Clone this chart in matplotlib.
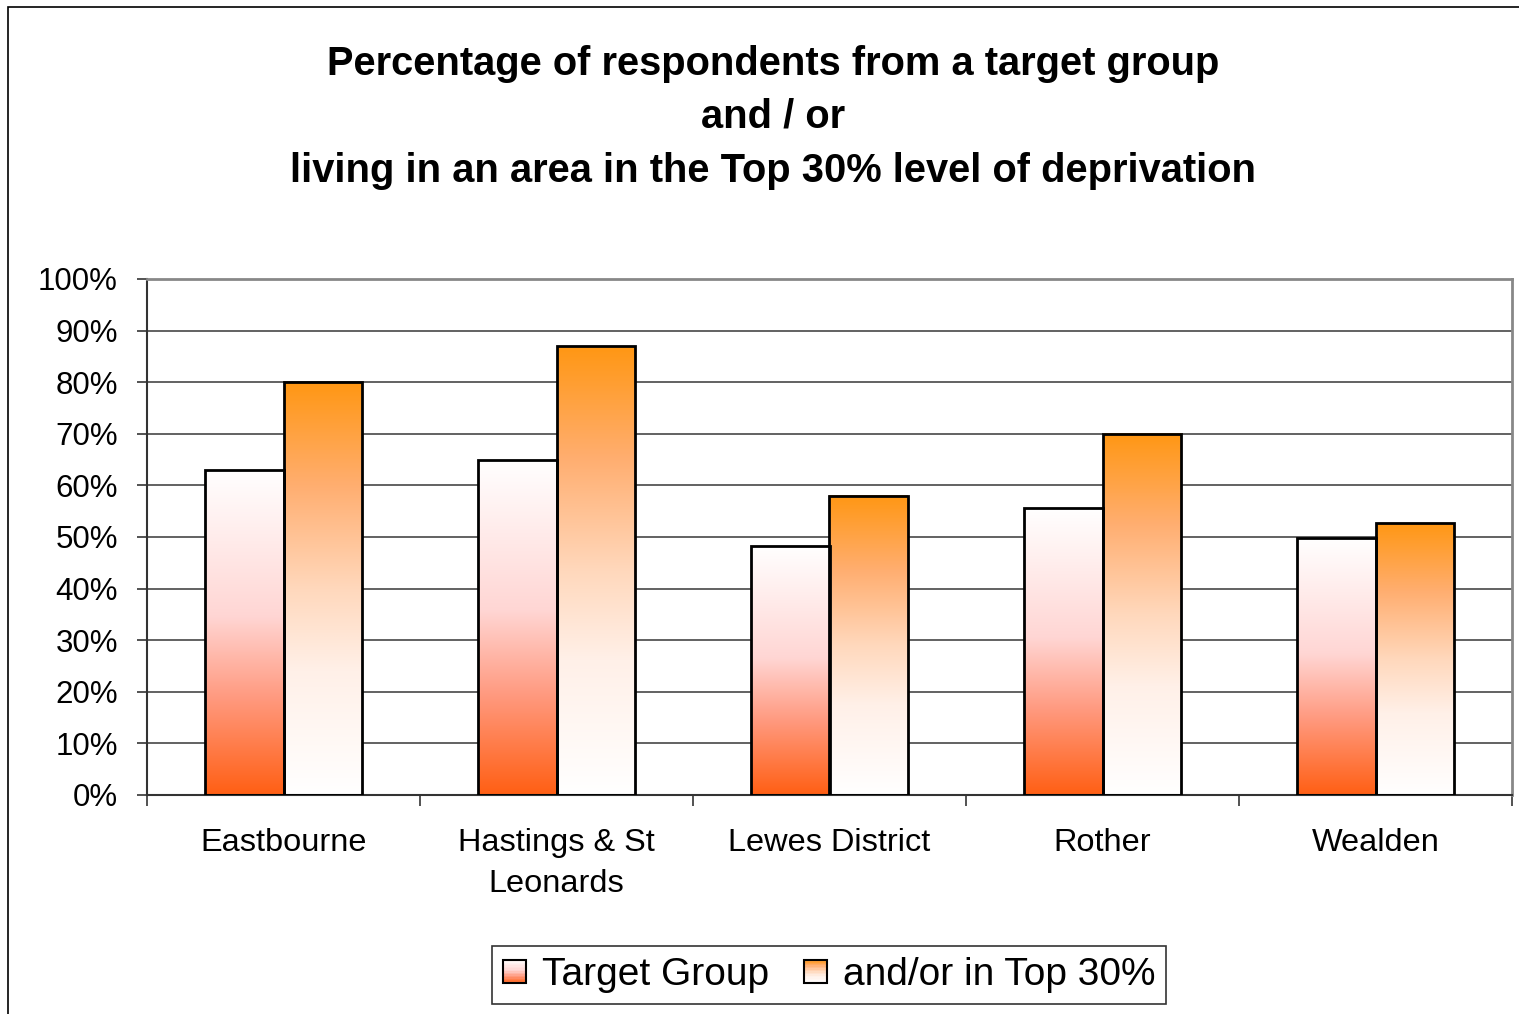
import numpy as np
import matplotlib
matplotlib.use("Agg")
import matplotlib.pyplot as plt
from matplotlib.colors import LinearSegmentedColormap
from matplotlib.legend_handler import HandlerBase
from matplotlib.patches import Rectangle, Patch

plt.rcParams["font.family"] = ["Liberation Sans", "DejaVu Sans"]

categories = ["Eastbourne", "Hastings & St\nLeonards", "Lewes District", "Rother", "Wealden"]
target_group = [63, 65, 48.3, 55.6, 49.8]
top30 = [80, 87, 58, 70, 52.7]
series_names = ["Target Group", "and/or in Top 30%"]
y_ticks = [0, 10, 20, 30, 40, 50, 60, 70, 80, 90, 100]

# colormaps go from bar bottom (0) to bar top (1)
cmap_target = LinearSegmentedColormap.from_list(
    "target", [(0.0, "#ff5f14"), (0.3, "#ff9a80"), (0.55, "#ffd6d4"), (1.0, "#ffffff")])
cmap_top = LinearSegmentedColormap.from_list(
    "top", [(0.0, "#ffffff"), (0.3, "#fff0e8"), (0.5, "#ffd8bc"), (0.75, "#ffae70"), (1.0, "#ff9714")])

fig = plt.figure(figsize=(15.19, 10.14), dpi=100)
ax = fig.add_axes([147 / 1519, 1 - 795 / 1014, (1512 - 147) / 1519, (795 - 279) / 1014])

x = np.arange(len(categories))
w = 0.286
grad = np.linspace(0, 1, 256).reshape(-1, 1)

for vals, off, cmap in [(target_group, -w / 2, cmap_target), (top30, w / 2, cmap_top)]:
    bars = ax.bar(x + off, vals, w, facecolor="none", edgecolor="black", linewidth=2, zorder=3)
    for b in bars:
        x0, y0 = b.get_x(), b.get_y()
        ax.imshow(grad, cmap=cmap, origin="lower", aspect="auto",
                  extent=(x0, x0 + b.get_width(), y0, y0 + b.get_height()), zorder=2,
                  interpolation="bilinear")

ax.set_xlim(-0.5, len(categories) - 0.5)
ax.set_ylim(0, 100)
ax.set_yticks(y_ticks)
ax.set_yticklabels([f"{t}%" for t in y_ticks], fontsize=22.5)
ax.yaxis.grid(True, color="#555555", linewidth=1.3, zorder=0)
ax.set_axisbelow(True)

ax.set_xticks(x)
ax.set_xticklabels(categories, fontsize=23.4, linespacing=1.45)
ax.set_xticks(np.arange(len(categories) + 1) - 0.5, minor=True)
ax.tick_params(axis="x", which="major", length=0, pad=24)
ax.tick_params(axis="x", which="minor", length=8, width=1.3, color="#444444")
ax.tick_params(axis="y", length=7, width=1.3, pad=14, color="#444444")

for s in ["left", "bottom"]:
    ax.spines[s].set_color("#333333")
    ax.spines[s].set_linewidth(1.5)
for s in ["top", "right"]:
    ax.spines[s].set_color("#888888")
    ax.spines[s].set_linewidth(2)

title_lines = ["Percentage of respondents from a target group", "and / or",
               "living in an area in the Top 30% level of deprivation"]
for line, yp in zip(title_lines, [64, 117, 171]):
    fig.text(773 / 1519, 1 - yp / 1014, line, ha="center", va="center",
             fontsize=28.7, fontweight="bold")


class GradHandler(HandlerBase):
    def __init__(self, cmap):
        super().__init__()
        self.cmap = cmap

    def create_artists(self, legend, orig_handle, xdescent, ydescent, width, height, fontsize, trans):
        side = min(width, height)
        x0 = -xdescent + (width - side) / 2
        y0 = -ydescent + (height - side) / 2
        n = 16
        arts = []
        for i in range(n):
            r = Rectangle((x0, y0 + side * i / n), side, side / n + 0.3,
                          facecolor=self.cmap((i + 0.5) / n), edgecolor="none", transform=trans)
            arts.append(r)
        arts.append(Rectangle((x0, y0), side, side, facecolor="none", edgecolor="black",
                              linewidth=1.5, transform=trans))
        return arts


h1, h2 = Patch(), Patch()
leg = fig.legend([h1, h2], series_names, loc="center", bbox_to_anchor=(829 / 1519, 1 - 975 / 1014),
                 ncol=2, fontsize=28, frameon=True, fancybox=False, edgecolor="black",
                 handlelength=0.6, handleheight=0.6, handletextpad=0.4, columnspacing=0.9,
                 borderpad=0.28, borderaxespad=0.3,
                 handler_map={h1: GradHandler(cmap_target), h2: GradHandler(cmap_top)})
leg.get_frame().set_linewidth(1.2)

fig.patches.append(Rectangle((8 / 1519, -0.1), 1.2, 1 - 7 / 1014 + 0.1, transform=fig.transFigure,
                             fill=False, edgecolor="black", linewidth=1.2))

fig.savefig("out.png", dpi=100)
